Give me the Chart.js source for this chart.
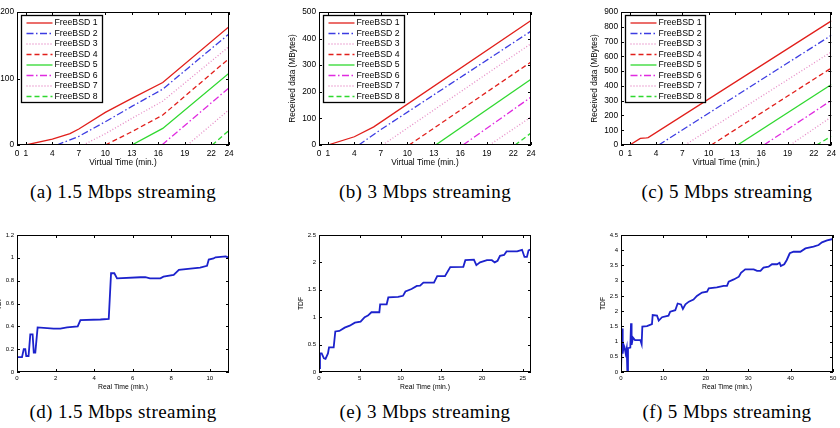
<!DOCTYPE html>
<html>
<head>
<meta charset="utf-8">
<script src="https://cdn.jsdelivr.net/npm/chart.js@4.4.1/dist/chart.umd.min.js"></script>
<style>
    body { margin: 0; width: 840px; height: 428px; overflow: hidden; position: relative; background: #fff; }
    canvas { position: absolute; }
    .cap { position: absolute; width: 300px; text-align: center; font-family: "Liberation Serif", "DejaVu Serif", serif; font-size: 19px; letter-spacing: 0.4px; line-height: 20px; color: #000; white-space: nowrap; }
</style>
</head>
<body>
<script>
// series names and tick labels
const bsdLabels = ['FreeBSD 1', 'FreeBSD 2', 'FreeBSD 3', 'FreeBSD 4', 'FreeBSD 5', 'FreeBSD 6', 'FreeBSD 7', 'FreeBSD 8'];
const virtualTicks = [0, 1, 4, 7, 10, 13, 16, 19, 22, 24];
const recvTicks15 = [0, 100, 200];
const recvTicks3 = [0, 100, 200, 300, 400, 500];
const recvTicks5 = [0, 100, 200, 300, 400, 500, 600, 700, 800, 900];
const realTicks15 = [0, 2, 4, 6, 8, 10];
const realTicks3 = [0, 5, 10, 15, 20, 25];
const realTicks5 = [0, 10, 20, 30, 40, 50];
const tdfTicks15 = [0, 0.2, 0.4, 0.6, 0.8, 1, 1.2];
const tdfTicks3 = [0, 0.5, 1, 1.5, 2, 2.5];
const tdfTicks5 = [0, 0.5, 1, 1.5, 2, 2.5, 3, 3.5, 4, 4.5];

// received data (MBytes) vs virtual time (min.), one list of [t, MB] per FreeBSD guest
const recv15 = [
    [[1, 0], [4, 9], [6, 17], [7, 24], [10, 49], [13, 70], [16.5, 94], [24, 178]],
    [[4.5, 0], [7, 13], [10, 35], [13, 58], [16.5, 84], [24, 167]],
    [[7.5, 0], [10, 17], [13, 40], [16.5, 66], [24, 148]],
    [[10, 0], [13, 20], [16.5, 45], [24, 130]],
    [[13, 0], [16.5, 25], [24, 108]],
    [[16.4, 0], [24, 86]],
    [[19.3, 0], [24, 53]],
    [[22.1, 0], [24, 22]]
];
const recv3 = [
    [[1, 0], [4, 31], [6.2, 68], [24, 468]],
    [[4.5, 0], [7, 58], [24, 428]],
    [[7.2, 0], [24, 381]],
    [[10.2, 0], [24, 312]],
    [[13.2, 0], [24, 247]],
    [[16.3, 0], [24, 180]],
    [[19.3, 0], [24, 105]],
    [[22.2, 0], [24, 45]]
];
const recv5 = [
    [[1, 0], [2.2, 45], [2.9, 48], [3.1, 50], [24, 840]],
    [[4.3, 0], [24, 743]],
    [[7.3, 0], [24, 630]],
    [[10.3, 0], [24, 521]],
    [[13.3, 0], [24, 409]],
    [[16.3, 0], [24, 302]],
    [[19.3, 0], [24, 190]],
    [[22.3, 0], [24, 59]]
];

// TDF vs real time (min.)
const tdf15 = [
    [0, 0.13], [0.26, 0.13], [0.35, 0.2], [0.43, 0.2], [0.48, 0.14], [0.6, 0.14], [0.69, 0.33], [0.81, 0.33],
    [0.87, 0.17], [0.95, 0.17], [1.07, 0.39], [1.9, 0.38], [2.25, 0.38], [2.6, 0.39], [3.15, 0.4], [3.29, 0.455],
    [4.33, 0.46], [4.76, 0.465], [4.88, 0.865], [5.05, 0.865], [5.19, 0.82], [6.4, 0.83], [6.66, 0.83], [6.9, 0.82],
    [7.44, 0.82], [7.6, 0.835], [8.13, 0.85], [8.4, 0.895], [9.0, 0.905], [9.5, 0.915], [9.86, 0.93], [9.95, 0.985],
    [10.2, 0.995], [10.3, 1.005], [10.83, 1.013], [11, 1.0]
];
const tdf3 = [
    [0, 0.07], [0.12, 0.34], [0.33, 0.34], [0.6, 0.25], [0.8, 0.24], [1.1, 0.34], [1.23, 0.45], [1.8, 0.45],
    [2.0, 0.74], [2.5, 0.75], [3.15, 0.81], [3.77, 0.845], [4.4, 0.9], [5.1, 0.92], [5.6, 1.0], [6.0, 1.03],
    [6.43, 1.09], [7.4, 1.09], [7.5, 1.235], [8.3, 1.235], [8.5, 1.36], [9.7, 1.37], [10.3, 1.39], [10.6, 1.47],
    [11.35, 1.515], [12, 1.57], [12.4, 1.575], [12.8, 1.63], [14.1, 1.63], [14.5, 1.75], [15.45, 1.75], [16.1, 1.915],
    [17.7, 1.92], [17.95, 2.04], [19.0, 2.05], [19.3, 1.95], [19.75, 2.0], [20.6, 2.04], [21.2, 2.04], [21.55, 2.0],
    [21.9, 2.03], [22.2, 2.12], [22.7, 2.135], [23.0, 2.2], [24.3, 2.2], [24.9, 2.23], [25.2, 2.1], [25.5, 2.1],
    [25.7, 2.22], [26, 2.24]
];
const tdf5 = [
    [0, 0], [0.24, 1.43], [0.4, 0.6], [0.63, 0.89], [0.8, 0.83], [1.1, 0.61], [1.34, 0.78], [1.5, 0],
    [1.65, 0.78], [2.2, 0.8], [2.36, 1.6], [2.5, 0.89], [2.83, 1.13], [3.3, 1.05], [4.56, 1.05], [4.87, 0.91],
    [5.03, 1.49], [6.13, 1.51], [7.3, 1.57], [7.47, 1.87], [8.5, 1.85], [8.9, 1.69], [9.67, 1.8], [11.2, 1.85],
    [11.6, 1.98], [12.8, 2.03], [13.36, 2.25], [14.15, 2.22], [14.6, 2.07], [15.2, 2.22], [16.0, 2.31], [17.1, 2.38],
    [17.9, 2.5], [19.1, 2.61], [20.3, 2.64], [20.7, 2.75], [22.6, 2.78], [24.2, 2.83], [25, 2.83], [25.4, 2.97],
    [26.6, 3.04], [27.8, 3.13], [28.3, 3.26], [29.3, 3.37], [31.3, 3.37], [32.1, 3.32], [32.9, 3.32], [33.6, 3.43],
    [34.8, 3.46], [35.6, 3.54], [36.8, 3.54], [37.4, 3.59], [37.7, 3.48], [38.5, 3.54], [39.1, 3.68], [39.8, 3.9],
    [40.7, 3.95], [42.3, 3.95], [43.5, 4.06], [45.4, 4.12], [46.6, 4.17], [47.4, 4.26], [48.6, 4.32], [50, 4.37]
];

// line styles for the eight guests
const bsdColors = ['#e11f1b', '#3c3ce2', '#e68cc6', '#e11f1b', '#2fd82f', '#e02be0', '#e68cc6', '#2fd82f'];
const bsdDash = [[], [7, 2.5, 1.5, 2.5], [1, 2], [5, 3], [], [7, 2.5, 1.5, 2.5], [1, 2], [5, 3]];

Chart.defaults.font.family = '"Liberation Sans", Arial, Helvetica, sans-serif';
Chart.defaults.color = '#000';
Chart.defaults.animation = false;

// box round the plot with inward ticks, matlab style
const frame = {
    id: 'frame',
    afterDatasetsDraw(chart, args, opts) {
        const ctx = chart.ctx;
        const a = chart.chartArea;
        const x = chart.scales.x, y = chart.scales.y;
        const len = opts.len || 3;
        ctx.save();
        ctx.strokeStyle = '#000';
        ctx.lineWidth = 1;
        ctx.strokeRect(Math.round(a.left) + 0.5, Math.round(a.top) + 0.5, Math.round(a.width) - 1, Math.round(a.height) - 1);
        ctx.beginPath();
        x.ticks.forEach(t => {
            const px = Math.round(x.getPixelForValue(t.value)) + 0.5;
            ctx.moveTo(px, a.bottom); ctx.lineTo(px, a.bottom - len);
            ctx.moveTo(px, a.top); ctx.lineTo(px, a.top + len);
        });
        y.ticks.forEach(t => {
            const py = Math.round(y.getPixelForValue(t.value)) + 0.5;
            ctx.moveTo(a.left, py); ctx.lineTo(a.left + len, py);
            ctx.moveTo(a.right, py); ctx.lineTo(a.right - len, py);
        });
        ctx.stroke();
        ctx.restore();
    }
};

// legend box in the upper left corner of the plot
const keyBox = {
    id: 'keyBox',
    afterDraw(chart, args, opts) {
        if (!opts.show) return;
        const ctx = chart.ctx;
        const a = chart.chartArea;
        const x0 = Math.round(a.left) + 4.5, y0 = Math.round(a.top) + 3.5;
        const w = opts.w, h = 87;
        ctx.save();
        ctx.fillStyle = '#fff';
        ctx.fillRect(x0, y0, w, h);
        ctx.lineWidth = 1.3;
        ctx.strokeStyle = '#000';
        ctx.strokeRect(x0, y0, w, h);
        chart.data.datasets.forEach((ds, i) => {
            const yy = y0 + 7.5 + i * 10.5;
            ctx.strokeStyle = ds.borderColor;
            ctx.lineWidth = ds.borderWidth;
            ctx.setLineDash(ds.borderDash || []);
            ctx.beginPath();
            ctx.moveTo(x0 + 5, yy);
            ctx.lineTo(x0 + 31, yy);
            ctx.stroke();
            ctx.setLineDash([]);
            ctx.fillStyle = '#000';
            ctx.font = '8.7px "Liberation Sans", Arial, sans-serif';
            ctx.textBaseline = 'middle';
            ctx.fillText(ds.label, x0 + 33, yy);
        });
        ctx.restore();
    }
};

function xyData(pairs) {
    return pairs.map(p => ({x: p[0], y: p[1]}));
}

function addCanvas(left, top, w, h) {
    const cv = document.createElement('canvas');
    cv.width = w;
    cv.height = h;
    cv.style.left = left + 'px';
    cv.style.top = top + 'px';
    document.body.appendChild(cv);
    return cv;
}

function scaleX(ticks, max, title, fs, tfs, h, pad, tpad) {
    return {
        type: 'linear', min: 0, max: max,
        afterBuildTicks: s => { s.ticks = ticks.map(v => ({value: v})); },
        afterFit: s => { s.height = h; },
        grid: {display: false, drawTicks: false},
        border: {display: false},
        ticks: {font: {size: fs}, padding: pad, maxRotation: 0, autoSkip: false, color: '#000', callback: v => String(v)},
        title: {display: true, text: title, font: {size: tfs}, color: '#000', padding: {top: 0, bottom: tpad}}
    };
}

function scaleY(ticks, max, title, showTitle, fs, tfs, w) {
    return {
        type: 'linear', min: 0, max: max,
        afterBuildTicks: s => { s.ticks = ticks.map(v => ({value: v})); },
        afterFit: s => { s.width = w; },
        grid: {display: false, drawTicks: false},
        border: {display: false},
        ticks: {font: {size: fs}, padding: 3, autoSkip: false, color: '#000', callback: v => String(v)},
        title: {display: showTitle, text: title, font: {size: tfs}, color: '#000', padding: {top: 0, bottom: 0}}
    };
}

// top row: received data of the eight guests
function recvChart(plotLeft, padRight, series, yTicks, showTitle, legendW) {
    const yw = 31;
    const cv = addCanvas(plotLeft - yw, 0, 212 + yw + padRight, 170);
    new Chart(cv, {
        type: 'line',
        data: {
            datasets: series.map((s, i) => ({
                label: bsdLabels[i],
                data: xyData(s),
                borderColor: bsdColors[i],
                borderDash: bsdDash[i],
                borderWidth: 1.3,
                pointRadius: 0,
                tension: 0,
                fill: false
            }))
        },
        options: {
            responsive: false,
            animation: false,
            layout: {padding: {top: 12, right: padRight, left: 0, bottom: 0}},
            plugins: {legend: {display: false}, tooltip: {enabled: false}, frame: {len: 3}, keyBox: {show: true, w: legendW}},
            scales: {
                x: scaleX(virtualTicks, 24, 'Virtual Time (min.)', 8.3, 8.3, 25, 4, 2),
                y: scaleY(yTicks, yTicks[yTicks.length - 1], 'Received data (MBytes)', showTitle, 8.3, 8.3, yw)
            }
        },
        plugins: [frame, keyBox]
    });
}

// bottom row: time dilation factor
function tdfChart(plotLeft, padRight, series, xTicks, xMax, yTicks) {
    const yw = 22;
    const cv = addCanvas(plotLeft - yw, 225, 212 + yw + padRight, 167);
    new Chart(cv, {
        type: 'line',
        data: {
            datasets: [{
                label: 'TDF',
                data: xyData(series),
                borderColor: '#1c22cc',
                borderWidth: 1.8,
                pointRadius: 0,
                tension: 0,
                fill: false
            }]
        },
        options: {
            responsive: false,
            animation: false,
            layout: {padding: {top: 10, right: padRight, left: 0, bottom: 0}},
            plugins: {legend: {display: false}, tooltip: {enabled: false}, frame: {len: 3}, keyBox: {show: false}},
            scales: {
                x: scaleX(xTicks, xMax, 'Real Time (min.)', 6, 6.8, 20, 3, 1),
                y: scaleY(yTicks, yTicks[yTicks.length - 1], 'TDF', true, 6, 6.8, yw)
            }
        },
        plugins: [frame, keyBox]
    });
}

recvChart(17, 10, recv15, recvTicks15, false, 81);
recvChart(319, 10, recv3, recvTicks3, true, 81);
recvChart(621, 7, recv5, recvTicks5, true, 80);

tdfChart(17, 10, tdf15, realTicks15, 11, tdfTicks15);
tdfChart(319, 10, tdf3, realTicks3, 26, tdfTicks3);
tdfChart(621, 7, tdf5, realTicks5, 50, tdfTicks5);

// sub-figure captions
const captions = [
    ['(a) 1.5 Mbps streaming', 123, 192],
    ['(b) 3 Mbps streaming', 425, 192],
    ['(c) 5 Mbps streaming', 727, 192],
    ['(d) 1.5 Mbps streaming', 123, 412],
    ['(e) 3 Mbps streaming', 425, 412],
    ['(f) 5 Mbps streaming', 727, 412]
];
captions.forEach(c => {
    const d = document.createElement('div');
    d.className = 'cap';
    d.textContent = c[0];
    d.style.left = (c[1] - 150) + 'px';
    d.style.top = (c[2] - 10) + 'px';
    document.body.appendChild(d);
});
</script>
</body>
</html>
